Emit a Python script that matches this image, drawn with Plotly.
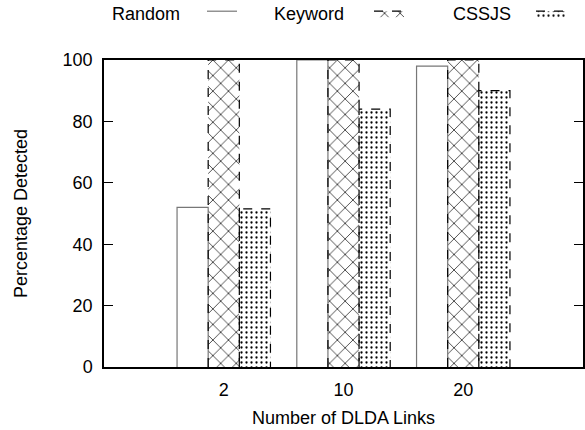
import plotly.graph_objects as go

categories = ["2", "10", "20"]
series_names = ["Random", "Keyword", "CSSJS"]
random_vals = [52, 100, 98]
keyword_vals = [100, 100, 100]
cssjs_vals = [51.5, 84, 90]

FONT = "Liberation Sans, Arial, sans-serif"
FS = 18
idx = [i + 1 for i in range(len(categories))]
bar_w = 0.26
offsets = [-0.39, -0.13, 0.13]

styles = [
    dict(pattern=dict(shape=""), line=dict(color="#777777", width=1.2, dash="solid"), fill="white"),
    dict(pattern=dict(shape="x", size=11, solidity=0.12, fgcolor="black", bgcolor="white", fillmode="replace"),
         line=dict(color="black", width=1.2, dash="dash"), fill="white"),
    dict(pattern=dict(shape=".", size=5, solidity=0.16, fgcolor="black", bgcolor="white", fillmode="replace"),
         line=dict(color="black", width=1.2, dash="dash"), fill="white"),
]

fig = go.Figure()
all_vals = [random_vals, keyword_vals, cssjs_vals]
for name, vals, off, st in zip(series_names, all_vals, offsets, styles):
    fig.add_trace(go.Bar(
        x=idx, y=vals, width=bar_w, offset=off, name=name, showlegend=False,
        marker=dict(color=st["fill"], pattern=st["pattern"], line=dict(width=0)),
    ))
    # outline computed from the data
    xs, ys = [], []
    for xi, v in zip(idx, vals):
        x0, x1 = xi + off, xi + off + bar_w
        xs += [x0, x0, x1, x1, None]
        ys += [0, v, v, 0, None]
    fig.add_trace(go.Scatter(x=xs, y=ys, mode="lines", line=st["line"],
                             showlegend=False, hoverinfo="skip"))

plot_w = 479
plot_h = 307
legend_ids = ["legend", "legend2", "legend3"]
sample_left_px = [202, 369, 531]
text_right_px = [182, 346, 513]

# legend samples (symbols only, text via annotations to put text left of sample)
for name, st, lid in zip(series_names, styles, legend_ids):
    fp = st["pattern"] if st["pattern"]["shape"] else None
    fig.add_trace(go.Scatter(
        x=[None], y=[None], mode="lines", fill="toself", fillcolor="white",
        fillpattern=fp, line=st["line"], name=" ", showlegend=True, legend=lid,
    ))

legend_layouts = {}
for lid, xl in zip(legend_ids, sample_left_px):
    legend_layouts[lid] = dict(orientation="h", x=(xl - 104) / plot_w, y=(367 + 5) / plot_h,
                               xanchor="left", yanchor="top", bgcolor="rgba(0,0,0,0)",
                               font=dict(size=FS), itemclick=False, itemdoubleclick=False)

for name, xr in zip(series_names, text_right_px):
    fig.add_annotation(x=(xr - 104) / plot_w, y=(367 - 14) / plot_h, xref="paper", yref="paper",
                       text=name, showarrow=False, xanchor="right", yanchor="middle",
                       font=dict(family=FONT, size=FS, color="black"))

fig.update_layout(
    width=585, height=430,
    margin=dict(l=104, r=2, t=60, b=63, autoexpand=False),
    paper_bgcolor="white", plot_bgcolor="white",
    font=dict(family=FONT, size=FS, color="black"),
    barmode="overlay",
    **legend_layouts,
    xaxis=dict(range=[0, 4], tickmode="array", tickvals=idx, ticktext=categories,
               showline=True, linecolor="black", linewidth=1.5, mirror=True,
               ticks="", showgrid=False, zeroline=False, ticklabelstandoff=6,
               title=dict(text="Number of DLDA Links", standoff=12,
                          font=dict(family=FONT, size=FS))),
    yaxis=dict(range=[0, 100], dtick=20, tick0=0,
               showline=True, linecolor="black", linewidth=1.5, mirror="ticks",
               ticks="inside", ticklen=9, tickcolor="black", tickwidth=1.2,
               showgrid=False, zeroline=False, ticklabelstandoff=6,
               title=dict(text="Percentage Detected", standoff=30,
                          font=dict(family=FONT, size=FS))),
)

fig.write_html("out.html")
